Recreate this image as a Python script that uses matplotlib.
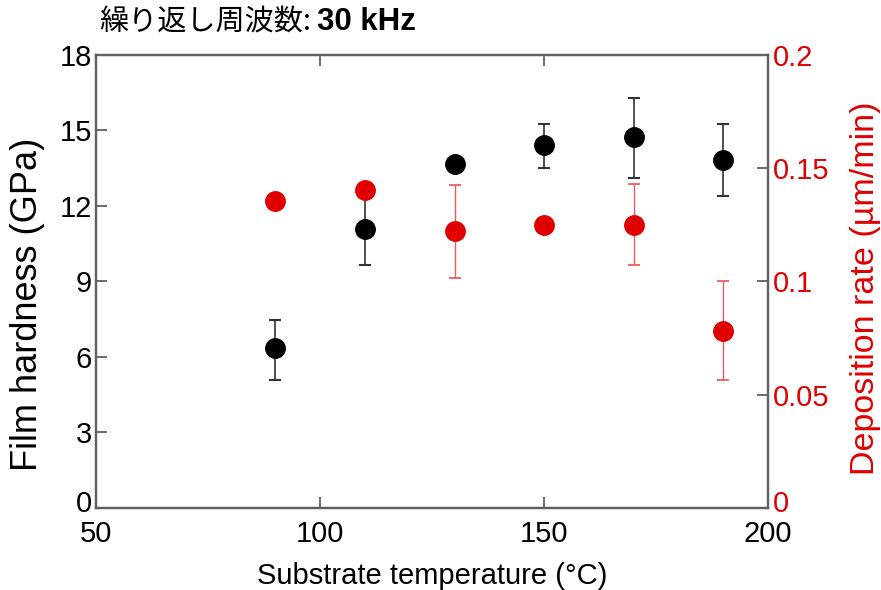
import matplotlib
matplotlib.use("Agg")
import matplotlib.pyplot as plt
from matplotlib.transforms import ScaledTranslation

plt.rcParams['font.family'] = ['Liberation Sans', 'Noto Sans CJK JP', 'DejaVu Sans']

temps = [90, 110, 130, 150, 170, 190]
hardness = [6.35, 11.08, 13.67, 14.42, 14.74, 13.83]
hard_err_lo = [1.26, 1.43, 0.0, 0.92, 1.63, 1.43]
hard_err_hi = [1.12, 1.43, 0.0, 0.84, 1.55, 1.43]
dep_rate = [0.1355, 0.1404, 0.1223, 0.1250, 0.1250, 0.0781]
dep_err_lo = [0.0, 0.0, 0.0208, 0.0, 0.0177, 0.0216]
dep_err_hi = [0.0, 0.0, 0.0203, 0.0, 0.0180, 0.0221]

x_ticks = [50, 100, 150, 200]
y1_ticks = [0, 3, 6, 9, 12, 15, 18]
y2_ticks = [0, 0.05, 0.1, 0.15, 0.2]
y2_labels = ['0', '0.05', '0.1', '0.15', '0.2']

red = '#e00000'
spine_c = '#606060'

fig = plt.figure(figsize=(8.81, 5.90), dpi=100)
ax = fig.add_axes([0.109, 0.139, 0.763, 0.768])
ax2 = ax.twinx()

ax.errorbar(temps, hardness, yerr=[hard_err_lo, hard_err_hi], fmt='o', color='black',
            ms=14, ecolor='#333333', elinewidth=1.2, capsize=4, capthick=1.5, zorder=3)
ax2.errorbar(temps, dep_rate, yerr=[dep_err_lo, dep_err_hi], fmt='o', color=red,
             ms=14, ecolor='#f05a5a', elinewidth=1.0, capsize=4, capthick=1.3, zorder=3)

ax.set_xlim(50, 200)
ax.set_ylim(0, 18)
ax2.set_ylim(0, 0.2)
ax.set_xticks(x_ticks)
ax.set_yticks(y1_ticks)
ax2.set_yticks(y2_ticks)
ax2.set_yticklabels(y2_labels)

for a in (ax, ax2):
    for s in a.spines.values():
        s.set_color(spine_c)
        s.set_linewidth(1.6)

ax.tick_params(axis='both', direction='in', length=8, width=1.3, color=spine_c,
               labelsize=21, pad=3, top=True)
ax.tick_params(axis='x', pad=9)
ax2.tick_params(axis='y', direction='in', length=8, width=1.3, color=spine_c,
                labelsize=21, labelcolor=red, pad=3)

# nudge the bottom "0" labels up slightly, as in the reference
shift = ScaledTranslation(0, 5 / 72, fig.dpi_scale_trans)
for a in (ax, ax2):
    lbls = a.get_yticklabels()
    lbls[0].set_transform(lbls[0].get_transform() + shift)

ax.set_xlabel('Substrate temperature (°C)', fontsize=21, labelpad=10)
ax.set_ylabel('Film hardness (GPa)', fontsize=26)
ax.yaxis.set_label_coords(-0.076, 0.45)
ax2.set_ylabel('Deposition rate (µm/min)', fontsize=24.5, color=red)
ax2.yaxis.set_label_coords(1.122, 0.485)

fig.text(0.113, 0.962, '繰り返し周波数:', fontsize=21, ha='left', va='center',
         family=['Noto Sans CJK JP', 'DejaVu Sans'])
fig.text(0.360, 0.962, '30 kHz', fontsize=22.5, ha='left', va='center', fontweight='bold')

fig.savefig('out.png', dpi=100)
